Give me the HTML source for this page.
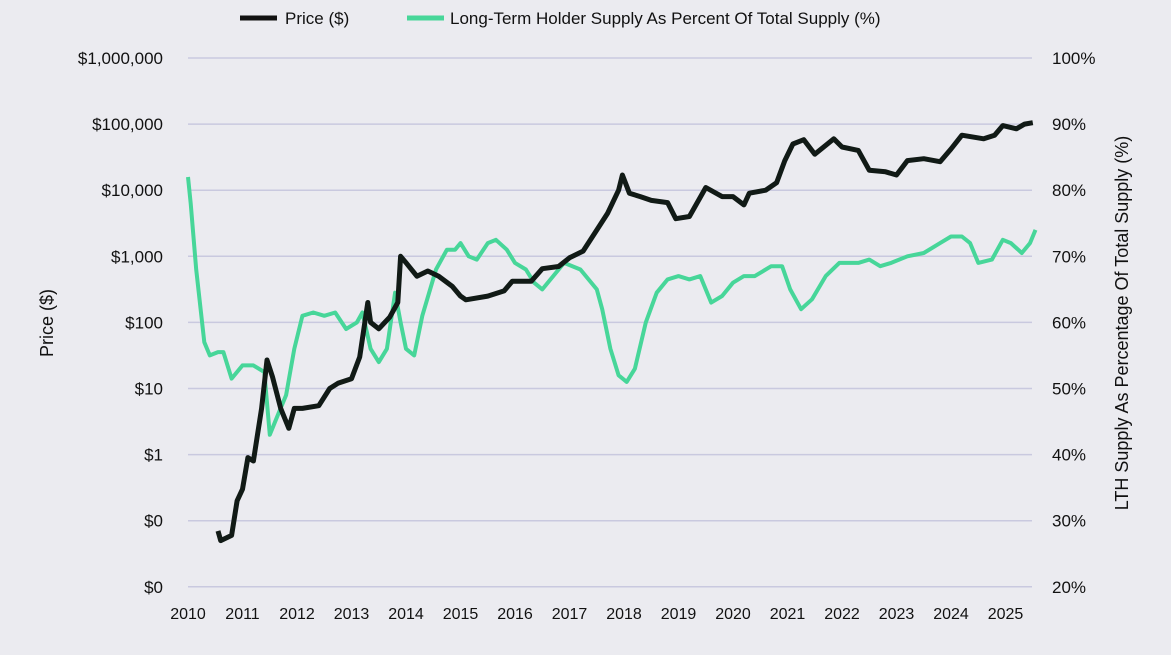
<!DOCTYPE html>
<html><head><meta charset="utf-8"><style>
body{margin:0;background:#ebebf0;font-family:"Liberation Sans",sans-serif;}
svg text{font-family:"Liberation Sans",sans-serif;fill:#111;}
</style></head><body>
<svg id="chart" width="1171" height="650" xmlns="http://www.w3.org/2000/svg">
<rect width="1171" height="650" fill="#ebebf0"/>
<g id="grid"></g>
<g id="axes"></g>
<g id="series"></g>
<g>
 <line x1="240" y1="18" x2="277" y2="18" stroke="#111" stroke-width="5"/>
 <text x="285" y="24" font-size="17">Price ($)</text>
 <line x1="407" y1="18" x2="444" y2="18" stroke="#47d699" stroke-width="5"/>
 <text x="450" y="24" font-size="17">Long-Term Holder Supply As Percent Of Total Supply (%)</text>
</g>
<text transform="translate(53,323) rotate(-90)" text-anchor="middle" font-size="18">Price ($)</text>
<text transform="translate(1128,323) rotate(-90)" text-anchor="middle" font-size="18">LTH Supply As Percentage Of Total Supply (%)</text>
</svg>
<script>
const priceTickLabels=["$1,000,000","$100,000","$10,000","$1,000","$100","$10","$1","$0","$0"];
const pctTickLabels=["100%","90%","80%","70%","60%","50%","40%","30%","20%"];
const yearLabels=[2010,2011,2012,2013,2014,2015,2016,2017,2018,2019,2020,2021,2022,2023,2024,2025];
const priceYears=[2010.55,2010.6,2010.8,2010.9,2011.0,2011.1,2011.2,2011.35,2011.45,2011.55,2011.7,2011.85,2011.95,2012.1,2012.4,2012.6,2012.75,2013.0,2013.15,2013.3,2013.35,2013.5,2013.7,2013.85,2013.9,2014.0,2014.2,2014.4,2014.6,2014.85,2015.0,2015.1,2015.5,2015.8,2015.95,2016.3,2016.5,2016.8,2017.0,2017.25,2017.5,2017.7,2017.9,2017.97,2018.1,2018.3,2018.5,2018.8,2018.95,2019.2,2019.5,2019.8,2020.0,2020.2,2020.3,2020.6,2020.8,2020.95,2021.1,2021.3,2021.5,2021.85,2022.0,2022.3,2022.5,2022.8,2023.0,2023.2,2023.5,2023.8,2024.0,2024.2,2024.6,2024.8,2024.95,2025.2,2025.35,2025.5];
const priceValues=[0.07,0.05,0.06,0.2,0.3,0.9,0.8,5,27,15,5,2.5,5,5,5.5,10,12,14,30,200,100,80,120,200,1000,800,500,600,500,350,250,220,250,300,420,420,650,700,950,1200,2500,4500,10000,17000,9000,8000,7000,6500,3700,4000,11000,8000,8000,6000,9000,10000,13000,28000,50000,58000,35000,60000,45000,40000,20000,19000,17000,28000,30000,27000,42000,68000,60000,68000,95000,85000,100000,105000];
const lthYears=[2010.0,2010.05,2010.15,2010.3,2010.4,2010.55,2010.65,2010.8,2011.0,2011.2,2011.4,2011.5,2011.65,2011.8,2011.95,2012.1,2012.3,2012.5,2012.7,2012.9,2013.1,2013.2,2013.35,2013.5,2013.65,2013.8,2013.9,2014.0,2014.15,2014.3,2014.55,2014.75,2014.9,2015.0,2015.15,2015.3,2015.5,2015.65,2015.85,2016.0,2016.2,2016.35,2016.5,2016.7,2016.9,2017.2,2017.5,2017.6,2017.75,2017.9,2018.05,2018.2,2018.4,2018.6,2018.8,2019.0,2019.2,2019.4,2019.6,2019.8,2020.0,2020.2,2020.4,2020.7,2020.9,2021.05,2021.25,2021.45,2021.7,2021.95,2022.3,2022.5,2022.7,2022.9,2023.2,2023.5,2023.8,2024.0,2024.2,2024.35,2024.5,2024.75,2024.95,2025.1,2025.3,2025.45,2025.55];
const lthValues=[82,78,68,57,55,55.5,55.5,51.5,53.5,53.5,52.5,43,46,49,56,61,61.5,61,61.5,59,60,61.5,56,54,56,64.5,60,56,55,61,68,71,71,72,70,69.5,72,72.5,71,69,68,66,65,67,69,68,65,62,56,52,51,53,60,64.5,66.5,67,66.5,67,63,64,66,67,67,68.5,68.5,65,62,63.5,67,69,69,69.5,68.5,69,70,70.5,72,73,73,72,69,69.5,72.5,72,70.5,72,74];

const NS="http://www.w3.org/2000/svg";
const X0=188,YW=54.5,Y0=58,DEC=66.1;
const xS=y=>X0+(y-2010)*YW;
const yP=p=>Y0+(6-Math.log10(p))*DEC;
const yPct=v=>Y0+(100-v)*DEC/10;
function mk(tag,attrs,parent){const e=document.createElementNS(NS,tag);for(const k in attrs)e.setAttribute(k,attrs[k]);parent.appendChild(e);return e;}
const grid=document.getElementById('grid'),axes=document.getElementById('axes'),series=document.getElementById('series');
for(let i=0;i<9;i++){
 const y=Y0+i*DEC;
 const g=mk('line',{x1:188,x2:1032,y1:y,y2:y,stroke:'#c9c9df','stroke-width':1.5},grid);
 
 
 const l=mk('text',{x:163,y:y+6,'text-anchor':'end','font-size':17},axes);
 l.textContent=priceTickLabels[i];
 
 
 const r=mk('text',{x:1052,y:y+6,'font-size':17},axes);
 r.textContent=pctTickLabels[i];
 
 
}
yearLabels.forEach(yr=>{
 const t=mk('text',{x:xS(yr),y:619,'text-anchor':'middle','font-size':16},axes);
 t.textContent=yr;
 
 
});
const lthPts=lthYears.map((y,i)=>xS(y).toFixed(1)+','+yPct(lthValues[i]).toFixed(1)).join(' ');
const lth=mk('polyline',{points:lthPts,fill:'none',stroke:'#47d699','stroke-width':4,'stroke-linejoin':'round'},series);


const pPts=priceYears.map((y,i)=>xS(y).toFixed(1)+','+yP(priceValues[i]).toFixed(1)).join(' ');
const pl=mk('polyline',{points:pPts,fill:'none',stroke:'#111a16','stroke-width':5,'stroke-linejoin':'round'},series);


</script>
</body></html>
